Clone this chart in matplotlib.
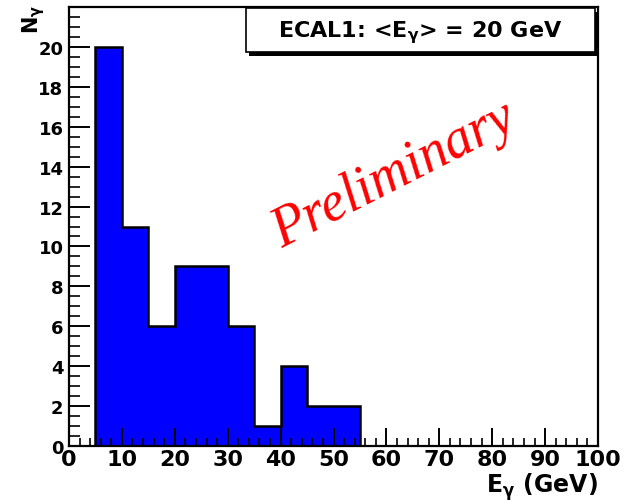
import matplotlib
matplotlib.use("Agg")
import matplotlib.pyplot as plt
from matplotlib.ticker import MultipleLocator
from matplotlib.patches import Rectangle

# Photon energy histogram, 5 GeV bins
bin_edges = [5, 10, 15, 20, 25, 30, 35, 40, 45, 50, 55]
counts = [20, 11, 6, 9, 9, 6, 1, 4, 2, 2]

x_ticks = [0, 10, 20, 30, 40, 50, 60, 70, 80, 90, 100]
y_ticks = [0, 2, 4, 6, 8, 10, 12, 14, 16, 18, 20]

title_text = r"ECAL1: <E$_{\gamma}$> = 20 GeV"
x_title = r"E$_{\gamma}$ (GeV)"
y_title = r"N$_{\gamma}$"
watermark = "Preliminary"

plt.rcParams["font.family"] = ["DejaVu Sans"]
plt.rcParams["mathtext.default"] = "regular"

W, H = 624, 502
fig = plt.figure(figsize=(W / 100, H / 100), dpi=100)
L, R, T, B = 69, 598, 8, 447
ax = fig.add_axes([L / W, 1 - B / H, (R - L) / W, (B - T) / H])

# Filled bins below the tick marks, outline on top
ax.stairs(counts, bin_edges, fill=True, facecolor="#0000ff", edgecolor="none", zorder=1)
ax.stairs(counts, bin_edges, fill=False, edgecolor="black", linewidth=1.8, zorder=1.5)

ax.set_xlim(0, 100)
ax.set_ylim(0, 22)

ax.set_xticks(x_ticks)
ax.set_yticks(y_ticks)
ax.xaxis.set_minor_locator(MultipleLocator(2))
ax.yaxis.set_minor_locator(MultipleLocator(0.5))

ax.tick_params(axis="x", which="major", direction="in", length=13, width=1.4,
               labelsize=16, pad=2, top=False)
ax.tick_params(axis="x", which="minor", direction="in", length=6, width=1.2, top=False)
ax.tick_params(axis="y", which="major", direction="in", length=15, width=1.4,
               labelsize=13, pad=4, right=False)
ax.tick_params(axis="y", which="minor", direction="in", length=8, width=1.2, right=False)
for lab in ax.get_xticklabels() + ax.get_yticklabels():
    lab.set_fontweight("bold")
for sp in ax.spines.values():
    sp.set_linewidth(1.6)
    sp.set_zorder(5)

# Axis titles placed in figure pixels, ROOT style (right / top aligned)
fig.text(R / W, 1 - 493 / H, x_title, ha="right", va="baseline",
         fontsize=17, fontweight="bold")
fig.text(38 / W, 1 - 34 / H, y_title, ha="left", va="baseline", rotation=90,
         rotation_mode="anchor", fontsize=15, fontweight="bold")

# Title box with drop shadow, in figure pixels
bx0, bx1, by0, by1 = 246, 595, 9, 53
fig.patches.append(Rectangle(((bx0 + 3) / W, 1 - (by1 + 4) / H), (bx1 - bx0) / W,
                             (by1 - by0) / H, transform=fig.transFigure,
                             facecolor="black", edgecolor="none", zorder=6))
fig.patches.append(Rectangle((bx0 / W, 1 - by1 / H), (bx1 - bx0) / W, (by1 - by0) / H,
                             transform=fig.transFigure, facecolor="white",
                             edgecolor="black", linewidth=1.2, zorder=7))
fig.text((bx0 + bx1) / 2 / W, 1 - 37 / H, title_text, ha="center", va="baseline",
         fontsize=16, fontweight="bold", zorder=8)

fig.text(400 / W, 1 - 188 / H, watermark, rotation=27, rotation_mode="anchor",
         ha="center", va="baseline", fontsize=40, color="red",
         family="Liberation Serif", style="italic", zorder=4)

fig.savefig("out.png", dpi=100)
